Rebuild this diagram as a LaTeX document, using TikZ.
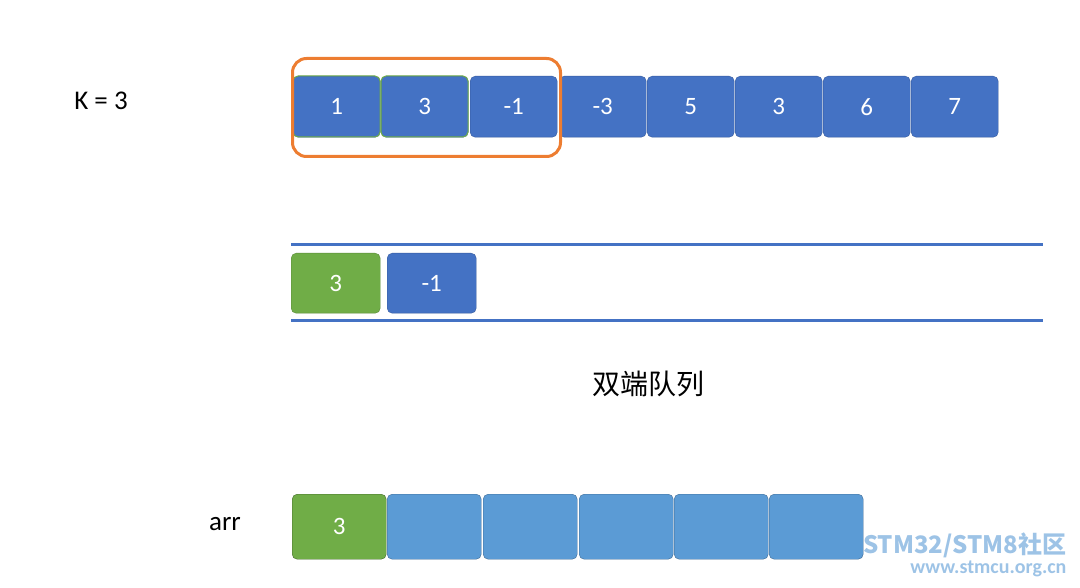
\documentclass[tikz,border=0pt]{standalone}
\usepackage{fontspec}
\setmainfont{Carlito}
\newfontfamily\cjk{Noto Sans CJK SC}
\definecolor{bl}{HTML}{4472C4}
\definecolor{bl2}{HTML}{5B9BD5}
\definecolor{gr}{HTML}{70AD47}
\definecolor{org}{HTML}{ED7D31}
\begin{document}
\begin{tikzpicture}[x=1pt,y=-1pt,
  cell/.style={draw=bl!80!black,fill=bl,rounded corners=5pt,text=white,font=\fontsize{25}{28}\selectfont,minimum height=61pt,inner sep=0pt,anchor=north west},
  cellb/.style={draw=bl2!70!black,fill=bl2,rounded corners=5pt,text=white,font=\fontsize{25}{28}\selectfont,minimum height=65pt,minimum width=94pt,inner sep=0pt,anchor=north west},
  lbl/.style={font=\fontsize{27}{30}\selectfont}]
\useasboundingbox (0,0) rectangle (1080,588);
\node[lbl] (k) at (101,101) {K = 3};
\foreach \x/\t/\n in {293/1/a,381/3/b,470/-1/c,559/-3/d,647/5/e,735/3/f,823/6/g,911/7/h}
  \node[cell,minimum width=87pt] (\n) at (\x,76) {\t};
\draw[gr,line width=1pt,rounded corners=5pt] (293,76) rectangle (380,137);
\draw[gr,line width=1pt,rounded corners=5pt] (381,76) rectangle (468,137);
\node[draw=org,line width=3pt,rounded corners=14pt,minimum width=268pt,minimum height=98pt,anchor=north west] (win) at (291,57) {};
\draw[bl,line width=3pt] (291,245) -- (1043,245);
\draw[bl,line width=3pt] (291,321) -- (1043,321);
\node[cell,fill=gr,draw=gr!80!black,minimum width=89pt,minimum height=60pt] (q1) at (291,253) {3};
\node[cell,minimum width=89pt,minimum height=60pt] (q2) at (387,253) {-1};
\node[font=\cjk\fontsize{28}{32}\selectfont] (dq) at (648,384) {双端队列};
\node[lbl] (arr) at (225,524) {arr};
\node[cellb,fill=gr,draw=gr!60!black] (r1) at (292,494) {3};
\foreach \x/\n in {387/r2,483/r3,579/r4,674/r5,769/r6}
  \node[cellb] (\n) at (\x,494) {};
\node[text=bl2!60,font=\cjk\bfseries\fontsize{24}{26}\selectfont,anchor=east] (wm1) at (1070,545) {STM32/STM8社区};
\node[text=bl2!60,font=\bfseries\fontsize{20}{22}\selectfont,anchor=east] (wm2) at (1070,569) {www.stmcu.org.cn};
\end{tikzpicture}
\end{document}
